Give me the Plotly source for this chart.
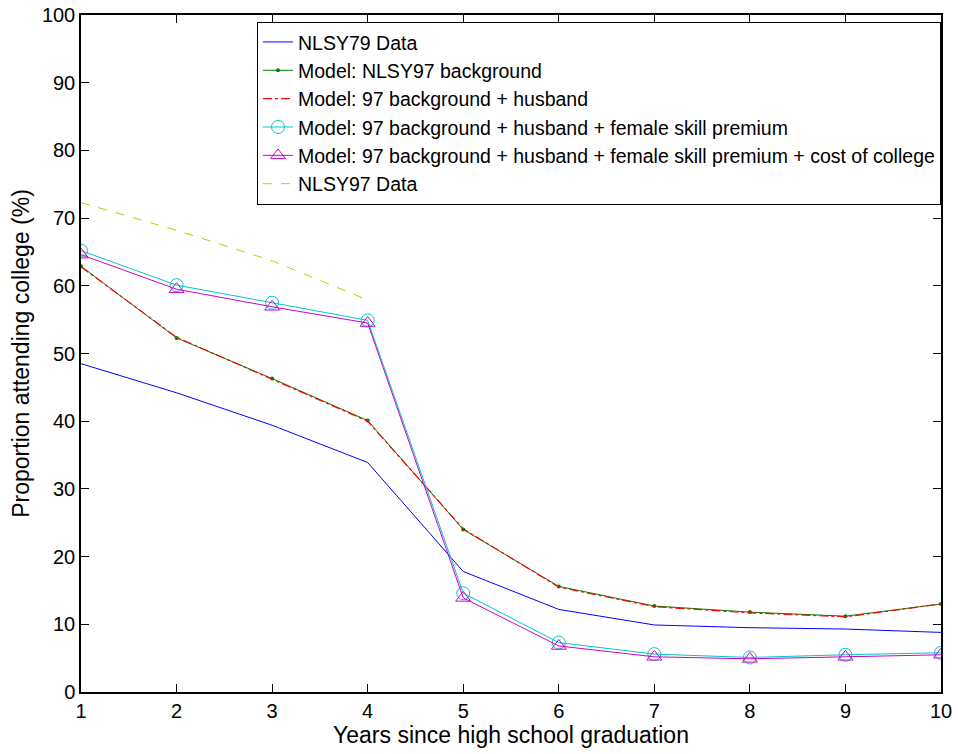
import plotly.graph_objects as go

years = [1, 2, 3, 4, 5, 6, 7, 8, 9, 10]
years97 = [1, 2, 3, 4]

nlsy79 = [48.5, 44.2, 39.4, 33.9, 17.8, 12.2, 9.9, 9.5, 9.3, 8.8]
model_bg = [62.9, 52.3, 46.3, 40.1, 24.0, 15.6, 12.7, 11.8, 11.2, 13.0]
model_husband = [62.8, 52.4, 46.2, 40.0, 24.1, 15.5, 12.6, 11.7, 11.1, 13.0]
model_skill = [65.2, 60.1, 57.5, 54.9, 14.6, 7.3, 5.6, 5.1, 5.5, 5.8]
model_cost = [64.6, 59.5, 56.9, 54.5, 13.9, 6.8, 5.2, 4.9, 5.2, 5.5]
nlsy97 = [72.3, 68.2, 63.7, 57.9]

names = [
    "NLSY79 Data",
    "Model: NLSY97 background",
    "Model: 97 background + husband",
    "Model: 97 background + husband + female skill premium",
    "Model: 97 background + husband + female skill premium + cost of college",
    "NLSY97 Data",
]

fig = go.Figure()
fig.add_trace(go.Scatter(x=years, y=nlsy79, name=names[0], mode="lines",
                         line=dict(color="rgb(0,0,255)", width=1)))
fig.add_trace(go.Scatter(x=years, y=model_bg, name=names[1], mode="lines+markers",
                         line=dict(color="rgb(0,128,0)", width=1),
                         marker=dict(symbol="circle", size=4, color="rgb(0,128,0)")))
fig.add_trace(go.Scatter(x=years, y=model_husband, name=names[2], mode="lines",
                         line=dict(color="rgb(255,0,0)", width=1.2, dash="dashdot")))
fig.add_trace(go.Scatter(x=years, y=model_skill, name=names[3], mode="lines+markers",
                         line=dict(color="rgb(0,200,200)", width=1),
                         marker=dict(symbol="circle-open", size=13, color="rgb(0,200,200)",
                                     line=dict(width=1))))
fig.add_trace(go.Scatter(x=years, y=model_cost, name=names[4], mode="lines+markers",
                         line=dict(color="rgb(204,0,204)", width=1),
                         marker=dict(symbol="triangle-up-open", size=13, color="rgb(204,0,204)",
                                     line=dict(width=1))))
fig.add_trace(go.Scatter(x=years97, y=nlsy97, name=names[5], mode="lines",
                         line=dict(color="rgb(200,200,0)", width=1, dash="dash")))

axis_common = dict(
    showline=True, linecolor="black", linewidth=1.5, mirror="ticks",
    ticks="inside", ticklen=8, tickcolor="black", tickwidth=1,
    showgrid=False, zeroline=False, automargin=False,
    ticklabeloverflow="allow",
    tickfont=dict(family="Liberation Sans, Arial, sans-serif", size=20, color="black"),
)

fig.update_layout(
    width=958, height=754,
    margin=dict(l=81, r=17, t=15, b=62),
    plot_bgcolor="white", paper_bgcolor="white",
    font=dict(family="Liberation Sans, Arial, sans-serif", color="black"),
    xaxis=dict(range=[1, 10], dtick=1, tick0=1,
               title=dict(text="Years since high school graduation",
                          font=dict(size=23), standoff=6),
               **axis_common),
    yaxis=dict(range=[0, 100], dtick=10, tick0=0,
               title=dict(text="Proportion attending college (%)",
                          font=dict(size=23), standoff=6),
               **axis_common),
    legend=dict(x=1, xanchor="right", y=0.99, yanchor="top",
                bordercolor="black", borderwidth=1, bgcolor="white",
                font=dict(size=19.5), tracegroupgap=0, itemwidth=30),
    showlegend=True,
)

# remove the default 8px page margin so the figure fills the window exactly
fig.write_html("out.html", config={"displayModeBar": False},
               post_script="document.body.style.margin='0';document.body.style.overflow='hidden';")
